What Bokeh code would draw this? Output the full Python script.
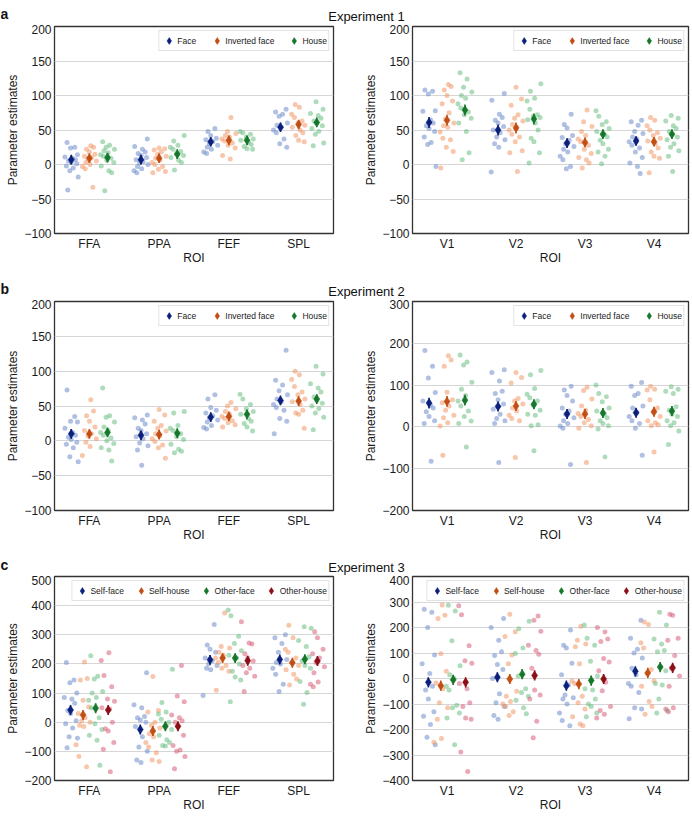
from bokeh.plotting import figure
from bokeh.layouts import column, row
from bokeh.models import Range1d, FixedTicker, Legend, LegendItem, Label
from bokeh.embed import file_html
from bokeh.resources import INLINE

# ---------------- data ----------------
ROI_CORTEX = ["FFA", "PPA", "FEF", "SPL"]
ROI_VISUAL = ["V1", "V2", "V3", "V4"]
COND3 = ["Face", "Inverted face", "House"]
COND4 = ["Self-face", "Self-house", "Other-face", "Other-house"]

# Experiment 1, left (FFA, PPA, FEF, SPL)
e1l_face = [[32, 25, 24, 14, 11, 9, 7, 5, 3, 1, -2, -5, -9, -18, -37],
            [37, 26, 22, 18, 16, 13, 10, 7, 4, 2, 0, -3, -6, -9, -12],
            [52, 48, 42, 38, 36, 33, 30, 28, 25, 22, 18, 16],
            [80, 76, 73, 70, 60, 57, 54, 50, 46, 37, 30, 25]]
e1l_inv = [[27, 25, 22, 18, 15, 12, 10, 8, 5, 3, 0, -3, -6, -33],
           [24, 23, 21, 18, 15, 12, 9, 6, 3, 0, -3, -7, -10, -12],
           [68, 48, 45, 42, 40, 37, 34, 31, 28, 24, 13, 8],
           [87, 83, 73, 68, 63, 60, 57, 54, 50, 46, 42, 35, 33]]
e1l_house = [[33, 28, 25, 22, 20, 17, 14, 12, 9, 6, 3, -2, -9, -12, -38],
             [42, 34, 28, 25, 22, 19, 16, 13, 10, 6, 3, -8],
             [48, 46, 44, 40, 37, 35, 32, 29, 26, 23, 22],
             [91, 80, 74, 71, 67, 63, 60, 56, 52, 48, 44, 31, 27]]
e1l_means = [[7, 7, 33, 54], [9, 9, 35, 58], [10, 15, 35, 61]]
e1l_err = [[7, 7, 7, 7], [7, 7, 7, 7], [7, 7, 7, 7]]

# Experiment 1, right (V1-V4)
e1r_face = [[108, 106, 102, 78, 77, 65, 60, 56, 52, 48, 40, 32, 29, -3],
            [103, 93, 73, 68, 64, 60, 55, 50, 46, 40, 36, 30, 25, -11],
            [73, 58, 53, 42, 39, 35, 30, 26, 22, 18, 12, 7, -3, -6],
            [64, 62, 57, 48, 45, 40, 37, 33, 28, 24, 18, 10, 2, -3, -13]]
e1r_inv = [[116, 113, 108, 100, 92, 88, 75, 66, 60, 56, 54, 47, 38, 36, 25, 19, -5],
           [112, 95, 86, 72, 67, 63, 58, 54, 50, 44, 40, 33, 20, 17, -10],
           [79, 62, 55, 48, 42, 37, 33, 28, 22, 16, 10, 7, 2, -5],
           [68, 64, 56, 50, 46, 42, 38, 34, 30, 24, 18, 12, 9, -12]]
e1r_house = [[133, 124, 112, 105, 100, 96, 88, 82, 76, 72, 67, 60, 48, 17, 7],
             [117, 106, 96, 92, 80, 72, 70, 68, 65, 60, 50, 38, 33, 17, 2],
             [78, 70, 62, 58, 52, 48, 44, 40, 35, 30, 22, 18, 12, 1],
             [71, 67, 63, 56, 52, 48, 44, 40, 36, 30, 25, 20, 12, -10]]
e1r_means = [[61, 50, 31, 34], [64, 53, 32, 33], [79, 66, 44, 44]]
e1r_err = [[8, 8, 7, 7], [8, 8, 7, 7], [8, 8, 7, 7]]

# Experiment 2, left
e2l_face = [[73, 35, 28, 27, 18, 12, 8, 5, 2, -2, -5, -10, -23, -30],
            [37, 33, 30, 24, 18, 15, 10, 6, 3, -3, -7, -13, -35],
            [66, 60, 48, 44, 40, 36, 33, 30, 27, 22, 19, 17],
            [130, 87, 80, 72, 66, 60, 56, 52, 48, 44, 32, 28, 10]]
e2l_inv = [[59, 43, 36, 28, 20, 15, 10, 7, 3, -2, -8, -21],
           [45, 37, 28, 22, 18, 14, 10, 7, 3, -1, -6, -10, -25],
           [55, 50, 46, 42, 38, 35, 32, 29, 26, 23, 20],
           [100, 95, 88, 78, 70, 66, 60, 56, 52, 44, 40, 38, 18]]
e2l_house = [[76, 36, 34, 27, 20, 15, 12, 8, 4, 0, -4, -10, -13, -29],
             [42, 40, 22, 18, 15, 10, 6, 2, -5, -12, -15, -17],
             [67, 60, 52, 46, 42, 38, 32, 28, 25, 20, 14],
             [107, 96, 82, 76, 70, 63, 58, 54, 50, 46, 40, 34, 16]]
e2l_means = [[10, 8, 34, 58], [10, 9, 35, 57], [12, 11, 38, 60]]
e2l_err = [[7, 7, 7, 7], [7, 7, 7, 7], [7, 7, 7, 7]]

# Experiment 2, right
e2r_face = [[183, 145, 117, 82, 62, 52, 45, 36, 25, 15, 8, -82],
            [137, 130, 110, 85, 80, 65, 55, 42, 30, 20, 15, 8, -85],
            [97, 88, 75, 62, 45, 38, 30, 22, 15, 8, 2, -3, -90],
            [106, 97, 80, 75, 50, 45, 35, 25, 15, 8, -3, -68]]
e2r_inv = [[170, 160, 145, 83, 65, 58, 50, 40, 28, 22, 10, 2, -68],
           [130, 118, 105, 68, 62, 55, 45, 38, 28, 20, 15, -73],
           [95, 87, 67, 50, 40, 32, 25, 18, 10, 3, -3, -85],
           [97, 90, 88, 65, 45, 35, 25, 15, 10, 5, 3, -60]]
e2r_house = [[172, 155, 148, 107, 90, 75, 62, 50, 38, 25, 14, 8, -48],
             [135, 125, 92, 78, 70, 62, 52, 40, 30, 28, 5, 3, -57],
             [100, 80, 72, 60, 45, 38, 30, 22, 15, 8, 3, -5, -72],
             [96, 90, 85, 80, 48, 40, 30, 25, 15, 10, 3, -10, -42]]
e2r_means = [[57, 49, 31, 34], [61, 50, 31, 36], [64, 54, 33, 38]]
e2r_err = [[13, 12, 12, 12], [13, 12, 12, 12], [13, 12, 12, 12]]

# Experiment 3, left
e3l_selfface = [[205, 145, 135, 100, 85, 80, 65, 40, 30, 5, -5, -20, -50, -55, -88],
                [170, 60, 50, 20, 15, 8, 0, -15, -50, -85, -100, -130, -138],
                [335, 265, 250, 240, 220, 210, 200, 195, 185, 180, 92],
                [300, 290, 270, 240, 215, 205, 200, 185, 165, 130, 105]]
e3l_selfhouse = [[207, 150, 145, 75, 52, 30, 15, 5, 0, -10, -15, -77, -118, -153],
                 [157, 40, 35, 0, -10, -20, -40, -50, -70, -85, -105, -130, -135],
                 [375, 260, 255, 240, 230, 220, 205, 195, 185, 175, 110],
                 [333, 290, 250, 240, 220, 205, 195, 180, 165, 148, 128]]
e3l_otherface = [[228, 158, 148, 105, 100, 85, 75, 50, 15, -5, -25, -45, -62, -148],
                 [182, 68, 35, 28, 10, 0, -15, -25, -45, -60, -70, -80, -82],
                 [385, 365, 295, 270, 245, 230, 220, 200, 175, 155, 145, 70],
                 [328, 322, 280, 260, 225, 210, 195, 185, 140, 102, 62]]
e3l_otherhouse = [[238, 212, 160, 122, 80, 72, 50, 45, 0, -22, -30, -70, -93, -170],
                  [195, 90, 70, 25, 15, 5, 0, -15, -45, -80, -95, -100, -118, -160],
                  [345, 272, 268, 235, 220, 210, 195, 185, 170, 158, 105],
                  [310, 290, 250, 235, 220, 205, 190, 170, 138, 130, 122]]
e3l_means = [[42, -25, 214, 215], [25, -30, 220, 204], [48, -14, 220, 216], [42, -14, 211, 210]]
e3l_err = [[17, 17, 17, 17], [17, 17, 17, 17], [17, 17, 17, 17], [17, 17, 17, 17]]

# Experiment 3, right
e3r_selfface = [[272, 260, 200, 92, 58, 20, -30, -45, -80, -130, -148, -180, -230, -260],
                [235, 200, 150, 105, 90, 55, 35, 0, -60, -95, -110, -145, -160],
                [190, 130, 120, 60, 15, -25, -65, -75, -80, -100, -135, -165, -185],
                [228, 158, 115, 100, 80, 40, 15, -20, -30, -55, -115, -120, -158]]
e3r_selfhouse = [[288, 248, 235, 97, 28, -18, -40, -95, -115, -160, -235, -250],
                 [252, 183, 165, 92, 58, -50, -70, -90, -100, -110, -130, -145],
                 [205, 150, 135, 125, 58, -10, -20, -70, -95, -120, -150, -178, -185],
                 [222, 212, 140, 120, 35, 20, -10, -30, -90, -110, -140]]
e3r_otherface = [[287, 265, 148, 50, 15, 0, -30, -45, -105, -115, -135, -155, -260],
                 [225, 195, 120, 98, 10, -40, -55, -70, -85, -115, -138],
                 [210, 158, 130, 68, 10, -40, -45, -80, -100, -110, -135, -150],
                 [260, 210, 155, 135, 110, 105, 45, 30, -20, -25, -80, -125, -135]]
e3r_otherhouse = [[315, 285, 250, 128, 70, 60, -20, -40, -95, -110, -155, -160, -288, -365],
                  [245, 228, 185, 130, 110, 95, 40, -45, -65, -80, -168, -232],
                  [200, 182, 155, 145, 78, 65, 30, -15, -48, -110, -125, -140, -155],
                  [252, 248, 158, 150, 90, 40, 10, -30, -115, -120, -130]]
e3r_means = [[-15, 5, -28, 28], [-28, -2, -22, 22], [-5, 17, -8, 45], [-15, 12, -2, 42]]
e3r_err = [[20, 20, 20, 20], [20, 20, 20, 20], [20, 20, 20, 20], [20, 20, 20, 20]]

TICKS_300 = [-100, -50, 0, 50, 100, 150, 200]
TICK_LABELS_300 = ["\u2212100", "\u221250", "0", "50", "100", "150", "200"]
TICKS_E2R = [-200, -100, 0, 100, 200, 300]
TICK_LABELS_E2R = ["\u2212200", "\u2212100", "0", "100", "200", "300"]
TICKS_E3L = [-200, -100, 0, 100, 200, 300, 400, 500]
TICK_LABELS_E3L = ["\u2212200", "\u2212100", "0", "100", "200", "300", "400", "500"]
TICKS_E3R = [-400, -300, -200, -100, 0, 100, 200, 300, 400]
TICK_LABELS_E3R = ["\u2212400", "\u2212300", "\u2212200", "\u2212100", "0", "100", "200", "300", "400"]

TITLES = ["Experiment 1", "Experiment 2", "Experiment 3"]
PANEL_LETTERS = ["a", "b", "c"]

# ---------------- style ----------------
FONT = "Liberation Sans"
MEAN_COLORS3 = ["#0b1f7c", "#c24e14", "#16772b"]
POINT_COLORS3 = ["#6f8dcc", "#f09866", "#6cc083"]
MEAN_COLORS4 = ["#0b1f7c", "#c24e14", "#16772b", "#8c0e16"]
POINT_COLORS4 = ["#6f8dcc", "#f09866", "#6cc083", "#d8607c"]
OFFSETS3 = [-0.26, 0.0, 0.26]
OFFSETS4 = [-0.27, -0.09, 0.09, 0.27]
JITTER = [-0.06, 0.05, -0.01, 0.09, -0.09, 0.02, 0.06, -0.04, 0.0, 0.08,
          -0.07, 0.03, -0.02, 0.1, -0.05, 0.01, -0.1]

HEADER_H = 24
LEFT_W, RIGHT_W = 350, 342
# (plot height, top border, bottom border) per row
ROW_DIMS = [(251, 2, 42), (252, 2, 41), (243, 1, 38)]


def make_panel(rois, conds, series, means, errs, yr, ticks, tick_labels, width,
               bl, br, dims, mean_colors, point_colors, offsets, legend_spacing):
    ph, bt, bb = dims
    p = figure(width=width, height=ph, x_range=Range1d(0.5, 4.5),
               y_range=Range1d(*yr), output_backend="svg", toolbar_location=None,
               min_border_left=bl, min_border_right=br, min_border_top=bt,
               min_border_bottom=bb)
    p.outline_line_color = "#333333"
    p.outline_line_width = 1.3
    p.xgrid.visible = False
    p.ygrid.grid_line_color = "#d6d6d6"
    p.ygrid.grid_line_width = 1
    p.ygrid.ticker = FixedTicker(ticks=ticks)

    positions = list(range(1, len(rois) + 1))
    p.xaxis.ticker = FixedTicker(ticks=positions)
    p.xaxis.major_label_overrides = {pos: r for pos, r in zip(positions, rois)}
    p.yaxis.ticker = FixedTicker(ticks=ticks)
    p.yaxis.major_label_overrides = {t: l for t, l in zip(ticks, tick_labels)}
    p.xaxis.axis_label = "ROI"
    p.yaxis.axis_label = "Parameter estimates"
    for ax in (p.xaxis, p.yaxis):
        ax.axis_line_color = None
        ax.major_tick_line_color = None
        ax.minor_tick_line_color = None
        ax.major_tick_out = 0
        ax.major_tick_in = 0
        ax.major_label_text_font = FONT
        ax.major_label_text_font_size = "12px"
        ax.major_label_text_color = "#1a1a1a"
        ax.axis_label_text_font = FONT
        ax.axis_label_text_font_size = "12px"
        ax.axis_label_text_font_style = "normal"
        ax.axis_label_text_color = "#1a1a1a"
    p.xaxis.major_label_standoff = 3
    p.xaxis.axis_label_standoff = -3
    p.yaxis.major_label_standoff = 3
    p.yaxis.axis_label_standoff = 1

    items = []
    for ci, cond in enumerate(conds):
        xs, ys = [], []
        for ri, vals in enumerate(series[ci]):
            for k, v in enumerate(vals):
                xs.append(positions[ri] + offsets[ci] + JITTER[(k + 3 * ri + 5 * ci) % len(JITTER)])
                ys.append(v)
        p.scatter(xs, ys, size=5, fill_color=point_colors[ci], fill_alpha=0.55,
                  line_color=None)
    for ci, cond in enumerate(conds):
        mx = [positions[ri] + offsets[ci] for ri in range(len(rois))]
        my = means[ci]
        er = errs[ci]
        p.segment(x0=mx, x1=mx, y0=[m - e for m, e in zip(my, er)],
                  y1=[m + e for m, e in zip(my, er)], line_color=mean_colors[ci],
                  line_width=1.6)
        r = p.scatter(mx, my, marker="diamond", size=9, fill_color=mean_colors[ci],
                      line_color=mean_colors[ci], line_width=0.5)
        items.append(LegendItem(label=cond, renderers=[r]))
    leg = Legend(items=items, orientation="horizontal", location="top_right",
                 label_text_font=FONT, label_text_font_size="8.5px",
                 label_text_color="#1a1a1a", glyph_width=17, glyph_height=17,
                 label_height=12, label_standoff=0, spacing=legend_spacing,
                 padding=1, margin=4, border_line_color="#c8c8c8",
                 border_line_width=1, background_fill_color="white",
                 background_fill_alpha=1)
    p.add_layout(leg)
    return p


def make_header(letter, title):
    w = LEFT_W + RIGHT_W
    h = figure(width=w, height=HEADER_H, x_range=Range1d(0, w),
               y_range=Range1d(0, HEADER_H), output_backend="svg", toolbar_location=None,
               x_axis_location=None, y_axis_location=None, min_border=0, title=None)
    h.grid.visible = False
    h.outline_line_color = None
    h.add_layout(Label(x=0, y=HEADER_H - 13, text=letter, text_baseline="alphabetic",
                       text_align="left", text_font=FONT, text_font_size="14px",
                       text_font_style="bold", text_color="#111111"))
    h.add_layout(Label(x=366, y=HEADER_H - 16, text=title, text_baseline="alphabetic",
                       text_align="center", text_font=FONT, text_font_size="13px",
                       text_color="#111111"))
    return h


rows = []
l1 = make_panel(ROI_CORTEX, COND3, [e1l_face, e1l_inv, e1l_house], e1l_means, e1l_err,
                (-100, 200), TICKS_300, TICK_LABELS_300, LEFT_W, 54, 17, ROW_DIMS[0],
                MEAN_COLORS3, POINT_COLORS3, OFFSETS3, 11)
r1 = make_panel(ROI_VISUAL, COND3, [e1r_face, e1r_inv, e1r_house], e1r_means, e1r_err,
                (-100, 200), TICKS_300, TICK_LABELS_300, RIGHT_W, 62, 4, ROW_DIMS[0],
                MEAN_COLORS3, POINT_COLORS3, OFFSETS3, 11)
rows.append(column(make_header(PANEL_LETTERS[0], TITLES[0]), row(l1, r1)))

l2 = make_panel(ROI_CORTEX, COND3, [e2l_face, e2l_inv, e2l_house], e2l_means, e2l_err,
                (-100, 200), TICKS_300, TICK_LABELS_300, LEFT_W, 54, 17, ROW_DIMS[1],
                MEAN_COLORS3, POINT_COLORS3, OFFSETS3, 11)
r2 = make_panel(ROI_VISUAL, COND3, [e2r_face, e2r_inv, e2r_house], e2r_means, e2r_err,
                (-200, 300), TICKS_E2R, TICK_LABELS_E2R, RIGHT_W, 62, 4, ROW_DIMS[1],
                MEAN_COLORS3, POINT_COLORS3, OFFSETS3, 11)
rows.append(column(make_header(PANEL_LETTERS[1], TITLES[1]), row(l2, r2)))

l3 = make_panel(ROI_CORTEX, COND4, [e3l_selfface, e3l_selfhouse, e3l_otherface, e3l_otherhouse],
                e3l_means, e3l_err, (-200, 500), TICKS_E3L, TICK_LABELS_E3L, LEFT_W, 54, 17,
                ROW_DIMS[2], MEAN_COLORS4, POINT_COLORS4, OFFSETS4, 8)
r3 = make_panel(ROI_VISUAL, COND4, [e3r_selfface, e3r_selfhouse, e3r_otherface, e3r_otherhouse],
                e3r_means, e3r_err, (-400, 400), TICKS_E3R, TICK_LABELS_E3R, RIGHT_W, 62, 4,
                ROW_DIMS[2], MEAN_COLORS4, POINT_COLORS4, OFFSETS4, 8)
rows.append(column(make_header(PANEL_LETTERS[2], TITLES[2]), row(l3, r3)))

page = column(*rows)
open("out.html", "w").write(file_html(page, INLINE))
